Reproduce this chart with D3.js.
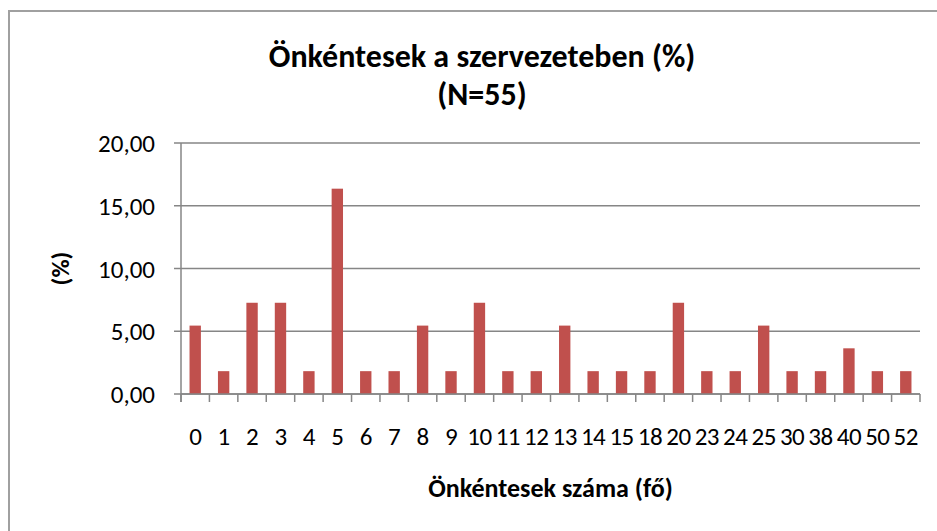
<!DOCTYPE html>
<html>
<head>
<meta charset="utf-8">
<script src="https://cdn.jsdelivr.net/npm/d3@7"></script>
<style>
  html, body { margin: 0; padding: 0; background: #fff; }
  svg { display: block; }
  text { font-family: Carlito, Calibri, Lato, sans-serif; fill: #000; }
</style>
</head>
<body>
<svg id="chart" width="937" height="531"></svg>
<script>
// categories = number of volunteers, values = share of organisations (%)
const categories = ["0","1","2","3","4","5","6","7","8","9","10","11","12","13","14","15","18","20","23","24","25","30","38","40","50","52"];
const percents = [5.45,1.82,7.27,7.27,1.82,16.36,1.82,1.82,5.45,1.82,7.27,1.82,1.82,5.45,1.82,1.82,1.82,7.27,1.82,1.82,5.45,1.82,1.82,3.64,1.82,1.82];
const yTicks = [0, 5, 10, 15, 20];

const titleLines = ["Önkéntesek a szervezeteben (%)", "(N=55)"];
const xTitle = "Önkéntesek száma (fő)";
const yTitle = "(%)";

const width = 937, height = 531;
const margin = { left: 181, right: 17, top: 143, bottom: 137 };
const axisColor = "#868686";
const barColor = "#C0504D";

const svg = d3.select("#chart");

// outer chart frame (runs off the right / bottom edge)
svg.append("rect")
  .attr("x", 9).attr("y", 11)
  .attr("width", 1000).attr("height", 600)
  .attr("fill", "none")
  .attr("stroke", "#a0a0a0")
  .attr("stroke-width", 2);

const x = d3.scaleBand()
  .domain(categories)
  .range([margin.left, width - margin.right])
  .paddingInner(0.6)
  .paddingOuter(0.3);

const y = d3.scaleLinear()
  .domain([0, 20])
  .range([height - margin.bottom, margin.top]);

// gridlines
svg.append("g")
  .selectAll("line")
  .data(yTicks)
  .join("line")
    .attr("x1", margin.left - 7)
    .attr("x2", width - margin.right)
    .attr("y1", d => y(d))
    .attr("y2", d => y(d))
    .attr("stroke", axisColor)
    .attr("stroke-width", 1.5);

// bars
svg.append("g")
  .selectAll("rect")
  .data(percents)
  .join("rect")
    .attr("x", (d, i) => x(categories[i]))
    .attr("width", x.bandwidth())
    .attr("y", d => y(d))
    .attr("height", d => y(0) - y(d))
    .attr("fill", barColor);

// y axis line
svg.append("line")
  .attr("x1", margin.left).attr("x2", margin.left)
  .attr("y1", y(20)).attr("y2", y(0) + 8)
  .attr("stroke", axisColor)
  .attr("stroke-width", 1.5);

// x axis line + ticks between categories
const step = x.step();
svg.append("line")
  .attr("x1", margin.left).attr("x2", width - margin.right)
  .attr("y1", y(0)).attr("y2", y(0))
  .attr("stroke", axisColor)
  .attr("stroke-width", 1.5);

svg.append("g")
  .selectAll("line")
  .data(d3.range(categories.length + 1))
  .join("line")
    .attr("x1", i => margin.left + i * step)
    .attr("x2", i => margin.left + i * step)
    .attr("y1", y(0))
    .attr("y2", y(0) + 8)
    .attr("stroke", axisColor)
    .attr("stroke-width", 1.5);

// y tick labels
const fmt = d => d3.format(".2f")(d).replace(".", ",");
svg.append("g")
  .selectAll("text")
  .data(yTicks)
  .join("text")
    .attr("x", 155)
    .attr("y", d => y(d))
    .attr("dy", "0.36em")
    .attr("text-anchor", "end")
    .style("font-size", "25px")
    .text(fmt);

// x tick labels
svg.append("g")
  .selectAll("text")
  .data(categories)
  .join("text")
    .attr("x", d => x(d) + x.bandwidth() / 2)
    .attr("y", 445)
    .attr("text-anchor", "middle")
    .style("font-size", "25px")
    .style("letter-spacing", "-0.5px")
    .text(d => d);

// titles
svg.append("text")
  .attr("text-anchor", "middle")
  .style("font-size", "32px")
  .style("font-weight", "bold")
  .selectAll("tspan")
  .data(titleLines)
  .join("tspan")
    .attr("x", 482)
    .attr("y", (d, i) => 67 + i * 38)
    .text(d => d);

svg.append("text")
  .attr("x", (margin.left + width - margin.right) / 2)
  .attr("y", 497)
  .attr("text-anchor", "middle")
  .style("font-size", "26px")
  .style("font-weight", "bold")
  .text(xTitle);

svg.append("text")
  .attr("transform", `translate(69, ${(y(0) + y(20)) / 2}) rotate(-90)`)
  .attr("text-anchor", "middle")
  .style("font-size", "25px")
  .style("font-weight", "bold")
  .text(yTitle);
</script>
</body>
</html>
